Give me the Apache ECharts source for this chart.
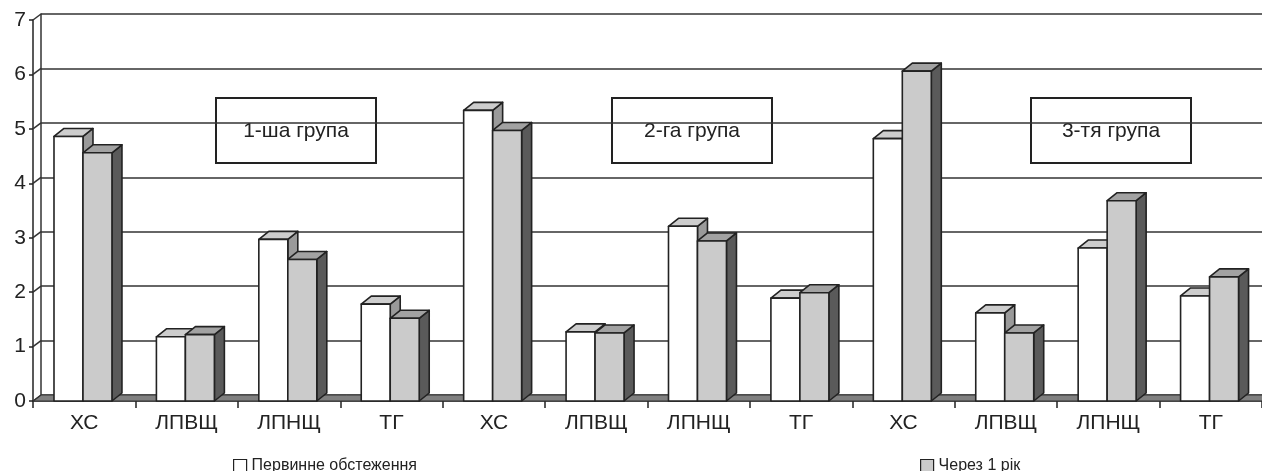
<!DOCTYPE html>
<html>
<head>
<meta charset="utf-8">
<script src="https://cdn.jsdelivr.net/npm/echarts@6/dist/echarts.min.js"></script>
<style>
  html, body { margin: 0; padding: 0; background: #fff; }
  #chart { width: 1262px; height: 471px; }
</style>
</head>
<body>
<div id="chart"></div>
<script>
// Ліпідні показники за групами: первинне обстеження та через 1 рік
const categories = ['ХС', 'ЛПВЩ', 'ЛПНЩ', 'ТГ', 'ХС', 'ЛПВЩ', 'ЛПНЩ', 'ТГ', 'ХС', 'ЛПВЩ', 'ЛПНЩ', 'ТГ'];
const initialValues = [4.86, 1.18, 2.97, 1.78, 5.34, 1.27, 3.21, 1.89, 4.82, 1.62, 2.81, 1.93];
const afterYearValues = [4.56, 1.22, 2.60, 1.52, 4.97, 1.25, 2.94, 1.99, 6.06, 1.25, 3.68, 2.28];
const seriesNames = ['Первинне обстеження', 'Через 1 рік'];
const groupLabels = ['1-ша група', '2-га група', '3-тя група'];
const yMin = 0, yMax = 7, yStep = 1;

const FONT = "'Liberation Sans', Arial, Helvetica, sans-serif";
const INK = '#222';
const DEPTH_X = 10, DEPTH_Y = 8;       // bar depth projection
const WALL_X = 8, WALL_Y = 6;          // wall depth projection

// faces: front, top, side
const faces = [
  { front: '#ffffff', top: '#cdcdcd', side: '#9a9a9a' },
  { front: '#cbcbcb', top: '#a2a2a2', side: '#5a5a5a' }
];

function barRenderer(offsetRatio, face) {
  return function (params, api) {
    const i = api.value(0), v = api.value(1);
    const band = api.size([1, 0])[0];
    const base = api.coord([i, 0]);
    const top = api.coord([i, v]);
    const w = band * 0.283;
    const x0 = base[0] + band * offsetRatio;
    const x1 = x0 + w;
    const yb = base[1], yt = top[1];
    const stroke = { stroke: INK, lineWidth: 1.6, lineJoin: 'round' };
    return {
      type: 'group',
      children: [
        { type: 'polygon', shape: { points: [[x1, yb], [x1 + DEPTH_X, yb - DEPTH_Y], [x1 + DEPTH_X, yt - DEPTH_Y], [x1, yt]] },
          style: Object.assign({ fill: face.side }, stroke) },
        { type: 'polygon', shape: { points: [[x0, yt], [x1, yt], [x1 + DEPTH_X, yt - DEPTH_Y], [x0 + DEPTH_X, yt - DEPTH_Y]] },
          style: Object.assign({ fill: face.top }, stroke) },
        { type: 'polygon', shape: { points: [[x0, yb], [x1, yb], [x1, yt], [x0, yt]] },
          style: Object.assign({ fill: face.front }, stroke) }
      ]
    };
  };
}

// floor strip and the diagonal tick links on the side wall
function floorRenderer(params, api) {
  const cs = params.coordSys;
  const left = cs.x, right = cs.x + cs.width, bottom = cs.y + cs.height;
  const children = [{
    type: 'polygon',
    shape: { points: [[left, bottom], [left + WALL_X, bottom - WALL_Y], [right + 2, bottom - WALL_Y], [right + 2, bottom]] },
    style: { fill: '#808080', stroke: '#333', lineWidth: 1 }
  }];
  for (let t = yMin; t <= yMax; t += yStep) {
    const p = api.coord([0, t]);
    children.push({
      type: 'line',
      shape: { x1: left, y1: p[1], x2: left + WALL_X, y2: p[1] - WALL_Y },
      style: { stroke: '#333', lineWidth: 1.5 }
    });
  }
  return { type: 'group', children: children };
}

const chart = echarts.init(document.getElementById('chart'), null, { renderer: 'canvas' });

function boxLabel(text, left) {
  return {
    type: 'group', left: left, top: 97, z: 20,
    children: [
      { type: 'rect', shape: { x: 0, y: 0, width: 160, height: 65 },
        style: { fill: '#fff', stroke: INK, lineWidth: 2 } },
      { type: 'text', x: 80, y: 33,
        style: { text: text, font: '21px ' + FONT, fill: INK, align: 'center', verticalAlign: 'middle' } }
    ]
  };
}

chart.setOption({
  animation: false,
  backgroundColor: '#fff',
  textStyle: { fontFamily: FONT },
  grid: [
    { left: 33, right: 0, top: 20, bottom: 70 },
    { left: 33 + WALL_X, right: 0, top: 20 - WALL_Y, bottom: 70 + WALL_Y }
  ],
  xAxis: [
    {
      type: 'category', gridIndex: 0, data: categories, boundaryGap: true,
      axisLine: { show: true, lineStyle: { color: INK, width: 1.5 } },
      axisTick: { show: true, length: 7, alignWithLabel: false, lineStyle: { color: INK, width: 1.5 } },
      axisLabel: { fontSize: 21, color: INK, margin: 12, fontFamily: FONT, interval: 0 },
      splitLine: { show: false }
    },
    { type: 'value', gridIndex: 1, show: false, min: 0, max: 1 }
  ],
  yAxis: [
    {
      type: 'value', gridIndex: 0, min: yMin, max: yMax, interval: yStep,
      axisLine: { show: true, lineStyle: { color: INK, width: 1.5 } },
      axisTick: { show: true, length: 4, inside: false, lineStyle: { color: INK, width: 1.5 } },
      axisLabel: { fontSize: 21, color: INK, margin: 7, fontFamily: FONT },
      splitLine: { show: false }
    },
    {
      type: 'value', gridIndex: 1, min: yMin, max: yMax, interval: yStep,
      axisLine: { show: true, lineStyle: { color: '#333', width: 1.5 } },
      axisTick: { show: false },
      axisLabel: { show: false },
      splitLine: { show: true, lineStyle: { color: '#333', width: 1.5 } }
    }
  ],
  legend: [
    {
      data: [{ name: seriesNames[0], itemStyle: { color: faces[0].front, borderColor: INK, borderWidth: 1.2 } }],
      left: 228, top: 453, icon: 'rect', itemWidth: 13, itemHeight: 13, itemGap: 6,
      selectedMode: false, textStyle: { fontSize: 16, color: INK, fontFamily: FONT }
    },
    {
      data: [{ name: seriesNames[1], itemStyle: { color: faces[1].front, borderColor: INK, borderWidth: 1.2 } }],
      left: 915, top: 453, icon: 'rect', itemWidth: 13, itemHeight: 13, itemGap: 6,
      selectedMode: false, textStyle: { fontSize: 16, color: INK, fontFamily: FONT }
    }
  ],
  graphic: [
    boxLabel(groupLabels[0], 215),
    boxLabel(groupLabels[1], 611),
    boxLabel(groupLabels[2], 1030)
  ],
  series: [
    {
      type: 'custom', name: 'floor', xAxisIndex: 0, yAxisIndex: 0, z: 1, silent: true,
      renderItem: floorRenderer, data: [[0, 0]]
    },
    {
      type: 'custom', name: seriesNames[0], xAxisIndex: 0, yAxisIndex: 0, z: 3,
      itemStyle: { color: faces[0].front },
      renderItem: barRenderer(-0.295, faces[0]),
      data: initialValues.map((v, i) => [i, v])
    },
    {
      type: 'custom', name: seriesNames[1], xAxisIndex: 0, yAxisIndex: 0, z: 4,
      itemStyle: { color: faces[1].front },
      renderItem: barRenderer(-0.012, faces[1]),
      data: afterYearValues.map((v, i) => [i, v])
    }
  ]
});
</script>
</body>
</html>
